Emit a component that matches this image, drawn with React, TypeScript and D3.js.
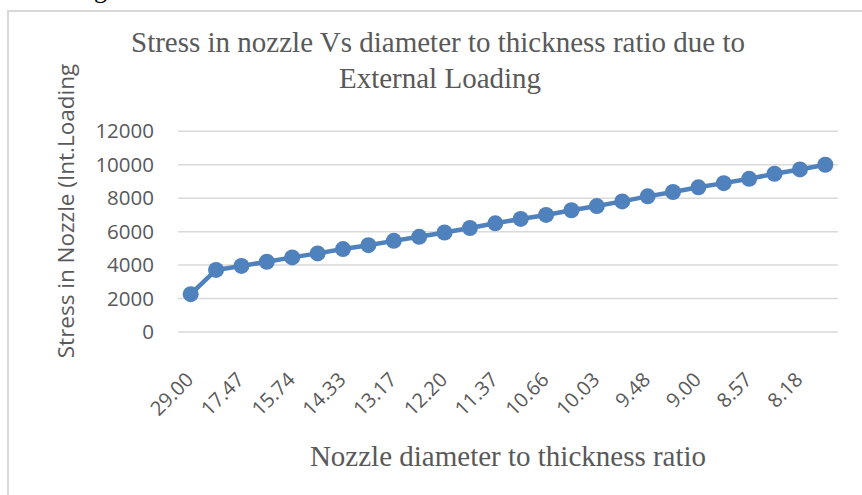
import React from 'react';
import * as d3 from 'd3';

// Nozzle diameter to thickness ratio (every other label is shown on the axis)
const ratios: string[] = [
    '29.00', '18.50', '17.47', '16.56', '15.74', '15.00', '14.33', '13.72', '13.17', '12.66',
    '12.20', '11.77', '11.37', '11.00', '10.66', '10.33', '10.03', '9.75', '9.48', '9.23',
    '9.00', '8.78', '8.57', '8.37', '8.18', '8.00',
];

// Stress in nozzle
const stress: number[] = [
    2260, 3710, 3950, 4200, 4460, 4700, 4960, 5190, 5450, 5690,
    5950, 6220, 6500, 6760, 7000, 7280, 7530, 7810, 8110, 8370,
    8650, 8900, 9160, 9460, 9720, 10000,
];

const yTicks: number[] = [0, 2000, 4000, 6000, 8000, 10000, 12000];

const W = 862;
const H = 495;
const plot = { left: 178, right: 838, top: 131.3, bottom: 332 };
const textColor = '#595959';
const blue = '#4F81BD';

const App: React.FC = () => {
    const x = d3.scaleBand<string>()
        .domain(ratios)
        .range([plot.left, plot.right]);

    const y = d3.scaleLinear()
        .domain([0, 12000])
        .range([plot.bottom, plot.top]);

    const cx = (i: number) => (x(ratios[i]) ?? 0) + x.bandwidth() / 2;

    const line = d3.line<number>()
        .x((d, i) => cx(i))
        .y(d => y(d));

    return (
        <svg width={W} height={H} style={{ position: 'absolute', left: 0, top: 0, background: '#fff' }}>
            {/* bit of the document text above the chart */}
            <text x={94} y={-2} fontFamily="Liberation Serif" fontSize={26} fill="#000">g</text>

            {/* chart border */}
            <rect x={8} y={11} width={W + 20} height={H + 20} fill="none" stroke="#d9d9d9" strokeWidth={2} />

            {/* title */}
            <text x={438} y={52} textAnchor="middle" fontFamily="Liberation Serif" fontSize={29} fill={textColor}>
                Stress in nozzle Vs diameter to thickness ratio due to
            </text>
            <text x={440} y={88} textAnchor="middle" fontFamily="Liberation Serif" fontSize={29} fill={textColor}>
                External Loading
            </text>

            {/* gridlines and y tick labels */}
            {yTicks.map(t => (
                <g key={t}>
                    <line x1={plot.left} x2={plot.right} y1={y(t)} y2={y(t)} stroke="#d9d9d9" strokeWidth={1.5} />
                    <text x={154} y={y(t)} dy="0.35em" textAnchor="end" fontFamily="Open Sans" fontSize={20.5} fill={textColor}>
                        {t}
                    </text>
                </g>
            ))}

            {/* x tick labels */}
            {ratios.map((r, i) => i % 2 === 0 ? (
                <text key={r} transform={`translate(${cx(i) + 4},${381}) rotate(-45)`} textAnchor="end"
                    fontFamily="Open Sans" fontSize={20} fill={textColor}>
                    {r}
                </text>
            ) : null)}

            {/* series */}
            <path d={line(stress) ?? ''} fill="none" stroke={blue} strokeWidth={4.5} strokeLinejoin="round" />
            {stress.map((s, i) => (
                <circle key={i} cx={cx(i)} cy={y(s)} r={8} fill={blue} />
            ))}

            {/* axis titles */}
            <text transform={`translate(74,211) rotate(-90)`} textAnchor="middle" fontFamily="Open Sans" fontSize={22.5} fill={textColor}>
                Stress in Nozzle (Int.Loading
            </text>
            <text x={508} y={466} textAnchor="middle" fontFamily="Liberation Serif" fontSize={29} fill={textColor}>
                Nozzle diameter to thickness ratio
            </text>
        </svg>
    );
};

export default App;
